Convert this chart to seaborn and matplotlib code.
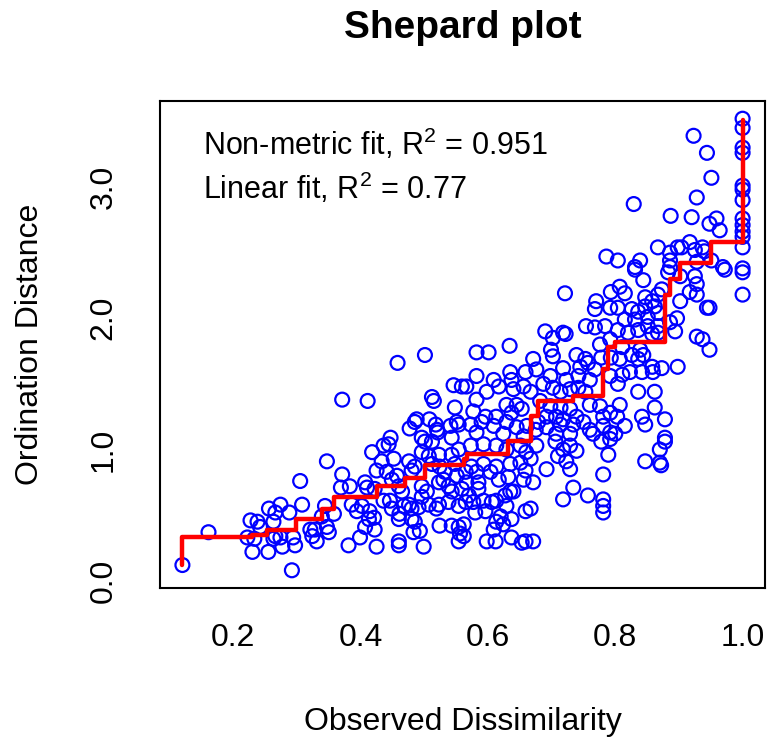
import pandas as pd
import matplotlib
matplotlib.use("Agg")
import matplotlib.pyplot as plt
import seaborn as sns

# --- data: (observed dissimilarity, ordination distance) ---
pts_low = [
    (0.120, 0.12), (0.161, 0.37), (0.227, 0.46), (0.238, 0.45), (0.242, 0.41), (0.222, 0.33),
    (0.233, 0.32), (0.230, 0.22), (0.255, 0.22), (0.256, 0.55), (0.266, 0.52), (0.274, 0.58),
    (0.288, 0.52), (0.263, 0.45), (0.266, 0.34), (0.274, 0.33), (0.263, 0.32), (0.277, 0.26),
    (0.297, 0.27), (0.294, 0.33), (0.292, 0.08), (0.305, 0.76), (0.308, 0.58), (0.321, 0.39),
    (0.324, 0.34),
]
pts_mid_low = [
    (0.347, 0.91), (0.371, 0.81), (0.369, 0.71), (0.383, 0.72), (0.386, 0.58), (0.394, 0.53),
    (0.344, 0.57), (0.339, 0.49), (0.358, 0.51), (0.328, 0.39), (0.347, 0.41), (0.350, 0.37),
    (0.331, 0.30), (0.381, 0.27), (0.399, 0.33), (0.418, 0.98), (0.436, 1.03), (0.444, 1.04),
    (0.433, 0.91), (0.452, 0.93), (0.425, 0.84), (0.441, 0.83), (0.407, 0.75), (0.410, 0.71),
    (0.422, 0.70), (0.436, 0.61), (0.402, 0.57), (0.414, 0.53), (0.413, 0.47), (0.421, 0.48),
    (0.407, 0.41), (0.422, 0.39), (0.425, 0.26), (0.449, 0.77), (0.457, 0.80), (0.460, 0.72),
    (0.465, 0.68), (0.446, 0.61), (0.449, 0.55), (0.461, 0.51), (0.460, 0.47), (0.468, 0.57),
    (0.476, 0.58), (0.480, 0.55), (0.480, 0.47), (0.485, 0.45), (0.493, 0.38), (0.483, 0.37),
    (0.460, 0.30), (0.460, 0.27), (0.499, 0.26), (0.476, 0.91), (0.480, 0.84), (0.485, 0.87),
    (0.496, 0.98), (0.501, 1.06), (0.512, 1.06), (0.496, 0.72), (0.504, 0.68), (0.496, 0.64),
    (0.491, 0.56), (0.507, 0.58), (0.524, 0.42), (0.523, 0.58), (0.519, 0.55), (0.523, 0.75),
    (0.530, 0.77), (0.538, 0.72), (0.543, 0.68), (0.538, 0.60), (0.554, 0.57), (0.543, 0.42),
    (0.554, 0.41), (0.554, 0.30), (0.556, 0.36), (0.523, 0.96), (0.543, 0.96), (0.554, 1.00),
    (0.548, 0.89), (0.532, 0.83), (0.551, 0.80), (0.559, 0.70), (0.512, 0.89), (0.524, 0.87),
    (0.507, 0.95),
]
pts_mid_high = [
    (0.371, 1.38), (0.411, 1.37), (0.458, 1.66), (0.501, 1.72), (0.512, 1.40), (0.515, 1.37),
    (0.546, 1.49), (0.559, 1.48), (0.548, 1.32), (0.488, 1.23), (0.485, 1.21), (0.508, 1.23),
    (0.518, 1.19), (0.520, 1.15), (0.521, 1.13), (0.477, 1.16), (0.551, 1.21), (0.541, 1.18),
    (0.554, 1.19), (0.447, 1.09), (0.496, 1.09), (0.543, 1.09),
]
pts_centre = [
    (0.721, 2.19), (0.768, 2.07), (0.770, 2.13), (0.792, 2.08), (0.793, 2.20), (0.690, 1.90),
    (0.702, 1.85), (0.718, 1.89), (0.722, 1.88), (0.754, 1.94), (0.768, 1.93), (0.784, 1.94),
    (0.776, 1.80), (0.792, 1.84), (0.634, 1.79), (0.582, 1.74), (0.601, 1.74), (0.699, 1.76),
    (0.702, 1.71), (0.739, 1.72), (0.753, 1.69), (0.757, 1.66), (0.778, 1.70), (0.793, 1.70),
    (0.671, 1.69), (0.659, 1.59), (0.676, 1.61), (0.698, 1.56), (0.718, 1.62), (0.723, 1.53),
    (0.745, 1.63), (0.742, 1.56), (0.760, 1.53), (0.768, 1.61), (0.792, 1.56), (0.582, 1.56),
    (0.609, 1.53), (0.637, 1.53), (0.635, 1.59), (0.566, 1.48), (0.582, 1.38), (0.598, 1.44),
    (0.617, 1.48), (0.640, 1.46), (0.656, 1.48), (0.667, 1.44), (0.687, 1.50), (0.702, 1.47),
    (0.714, 1.44), (0.729, 1.46), (0.742, 1.47), (0.753, 1.44), (0.629, 1.34), (0.645, 1.34),
    (0.653, 1.31), (0.637, 1.28), (0.682, 1.37), (0.698, 1.33), (0.714, 1.32), (0.692, 1.25),
    (0.707, 1.25), (0.729, 1.31), (0.718, 1.23), (0.739, 1.25), (0.760, 1.34), (0.776, 1.33),
    (0.781, 1.25), (0.792, 1.28), (0.577, 1.29), (0.596, 1.25), (0.613, 1.25), (0.609, 1.18),
    (0.590, 1.21), (0.573, 1.19), (0.582, 1.13), (0.629, 1.21), (0.645, 1.17), (0.661, 1.18),
    (0.675, 1.15), (0.679, 1.21), (0.692, 1.17), (0.714, 1.19), (0.734, 1.19), (0.750, 1.21),
    (0.760, 1.15), (0.781, 1.18), (0.792, 1.13), (0.624, 1.12), (0.656, 1.10), (0.707, 1.12),
    (0.729, 1.12), (0.765, 1.12),
]
pts_centre_low = [
    (0.573, 1.03), (0.593, 1.04), (0.613, 1.03), (0.629, 1.00), (0.651, 1.03), (0.660, 0.98),
    (0.676, 1.03), (0.706, 1.06), (0.718, 1.00), (0.729, 1.03), (0.739, 0.99), (0.710, 0.95),
    (0.723, 0.91), (0.729, 0.85), (0.692, 0.85), (0.671, 0.75), (0.667, 0.93), (0.651, 0.90),
    (0.635, 0.89), (0.613, 0.87), (0.593, 0.89), (0.574, 0.87), (0.565, 0.83), (0.582, 0.83),
    (0.604, 0.83), (0.617, 0.77), (0.632, 0.79), (0.659, 0.84), (0.656, 0.77), (0.566, 0.75),
    (0.585, 0.75), (0.570, 0.65), (0.585, 0.70), (0.635, 0.68), (0.640, 0.68), (0.627, 0.65),
    (0.613, 0.61), (0.593, 0.61), (0.577, 0.60), (0.565, 0.60), (0.606, 0.60), (0.629, 0.57),
    (0.659, 0.53), (0.667, 0.55), (0.580, 0.52), (0.596, 0.53), (0.620, 0.49), (0.637, 0.47),
    (0.613, 0.45), (0.624, 0.43), (0.609, 0.39), (0.562, 0.43), (0.562, 0.34), (0.598, 0.30),
    (0.612, 0.30), (0.637, 0.33), (0.653, 0.29), (0.659, 0.30), (0.671, 0.30), (0.734, 0.71),
    (0.718, 0.62), (0.757, 0.65), (0.781, 0.62), (0.781, 0.57), (0.781, 0.52), (0.781, 0.81),
    (0.789, 0.96), (0.778, 1.06), (0.792, 1.08),
]
pts_right = [
    (0.831, 2.37), (0.844, 2.29), (0.883, 2.35), (0.902, 2.32), (0.925, 2.32), (0.928, 2.26),
    (0.917, 2.20), (0.928, 2.18), (0.972, 2.37), (1.000, 2.35), (1.000, 2.18), (0.944, 2.08),
    (0.948, 2.08), (0.902, 2.13), (0.807, 2.24), (0.815, 2.19), (0.804, 2.08), (0.826, 2.07),
    (0.847, 2.16), (0.858, 2.13), (0.867, 2.18), (0.873, 2.22), (0.862, 2.09), (0.847, 2.09),
    (0.836, 2.05), (0.815, 1.99), (0.831, 1.99), (0.851, 2.01), (0.867, 2.04), (0.897, 2.00),
    (0.886, 1.97), (0.894, 1.90), (0.867, 1.94), (0.851, 1.94), (0.836, 1.91), (0.820, 1.89),
    (0.804, 1.91), (0.928, 1.86), (0.937, 1.84), (0.948, 1.76), (0.867, 1.89), (0.858, 1.88),
    (0.811, 1.78), (0.826, 1.72), (0.839, 1.76), (0.844, 1.72), (0.836, 1.69), (0.807, 1.69),
    (0.858, 1.63), (0.873, 1.62), (0.898, 1.63), (0.823, 1.59), (0.811, 1.57), (0.842, 1.59),
    (0.859, 1.59), (0.804, 1.50), (0.836, 1.44), (0.862, 1.44), (0.807, 1.34), (0.862, 1.32),
    (0.803, 1.25), (0.842, 1.25), (0.878, 1.23), (0.847, 1.19), (0.815, 1.18), (0.800, 1.12),
    (0.878, 1.09), (0.878, 1.06), (0.870, 1.00), (0.847, 0.91), (0.870, 0.90), (0.872, 0.88),
]
pts_top = [
    (0.923, 3.39), (0.944, 3.26), (0.951, 3.07), (0.928, 2.92), (0.829, 2.87), (0.887, 2.78),
    (0.920, 2.77), (0.948, 2.72), (0.959, 2.76), (0.964, 2.67), (1.000, 3.52), (1.000, 3.45),
    (1.000, 3.30), (1.000, 3.26), (1.000, 3.01), (1.000, 2.98), (1.000, 2.90), (1.000, 2.76),
    (1.000, 2.71), (1.000, 2.66), (1.000, 2.62), (1.000, 2.54), (0.867, 2.54), (0.886, 2.50),
    (0.898, 2.54), (0.904, 2.54), (0.917, 2.58), (0.925, 2.52), (0.937, 2.54), (0.940, 2.51),
    (0.951, 2.44), (0.969, 2.39), (1.000, 2.38), (0.804, 2.44), (0.839, 2.44), (0.831, 2.39),
    (0.886, 2.44), (0.886, 2.39), (0.928, 2.43), (0.786, 2.47),
]

# monotone (non-metric) fit, step corners
step_x = [0.120, 0.120, 0.230, 0.253, 0.299, 0.339, 0.358, 0.425, 0.469, 0.501, 0.562,
          0.567, 0.632, 0.668, 0.679, 0.734, 0.781, 0.789, 0.800, 0.878, 0.886, 0.901,
          0.951, 1.000]
step_y = [0.12, 0.334, 0.349, 0.387, 0.471, 0.547, 0.638, 0.721, 0.782, 0.885, 0.925,
          0.964, 1.063, 1.253, 1.367, 1.405, 1.61, 1.784, 1.82, 2.18, 2.30, 2.42,
          2.58, 3.51]

x_ticks = [0.2, 0.4, 0.6, 0.8, 1.0]
x_labels = ["0.2", "0.4", "0.6", "0.8", "1.0"]
y_ticks = [0, 1, 2, 3]
y_labels = ["0.0", "1.0", "2.0", "3.0"]

all_pts = pts_low + pts_mid_low + pts_mid_high + pts_centre + pts_centre_low + pts_right + pts_top
df = pd.DataFrame(all_pts, columns=["obs", "ord"])

# --- style ---
sns.set_style("white")
plt.rcParams["font.family"] = ["Liberation Sans", "DejaVu Sans"]
plt.rcParams["mathtext.fontset"] = "custom"
plt.rcParams["mathtext.rm"] = "Liberation Sans"
plt.rcParams["mathtext.it"] = "Liberation Sans:italic"
plt.rcParams["text.color"] = "black"
plt.rcParams["axes.labelcolor"] = "black"

fig = plt.figure(figsize=(7.69, 7.49), dpi=100)
ax = fig.add_axes([160 / 769, 161 / 749, 605 / 769, 487 / 749])

sns.scatterplot(data=df, x="obs", y="ord", ax=ax, marker="o", s=100,
                color="blue", facecolor="none", edgecolor="blue", linewidth=1.6,
                legend=False, zorder=2)
ax.step(step_x, step_y, where="post", color="red", lw=3.2, zorder=3)

ax.set_xlim(0.0848, 1.0352)
ax.set_ylim(-0.055, 3.655)
ax.set_xticks(x_ticks)
ax.set_xticklabels(x_labels)
ax.set_yticks(y_ticks)
ax.set_yticklabels(y_labels, rotation=90, va="center")
ax.tick_params(direction="out", length=13, width=1.5, labelsize=23, colors="black")
ax.tick_params(axis="x", pad=12)
ax.tick_params(axis="y", pad=17)

for sp in ax.spines.values():
    sp.set_visible(True)
    sp.set_color("black")
    sp.set_linewidth(1.5)

ax.set_xlabel("Observed Dissimilarity", fontsize=23, va="center")
ax.xaxis.set_label_coords(0.5, -0.275)
ax.set_ylabel("Ordination Distance", fontsize=23, va="center")
ax.yaxis.set_label_coords(-0.215, 0.5)

ax.text(0.071, 0.91, r"Non-metric fit, $\mathrm{R}^{2}$ = 0.951", transform=ax.transAxes,
        fontsize=22, va="center", ha="left")
ax.text(0.071, 0.821, r"Linear fit, $\mathrm{R}^{2}$ = 0.77", transform=ax.transAxes,
        fontsize=22, va="center", ha="left")

fig.text(462.5 / 769, 1 - 28 / 749, "Shepard plot", fontsize=28, fontweight="bold",
         ha="center", va="center")

fig.savefig("out.png", dpi=100)
